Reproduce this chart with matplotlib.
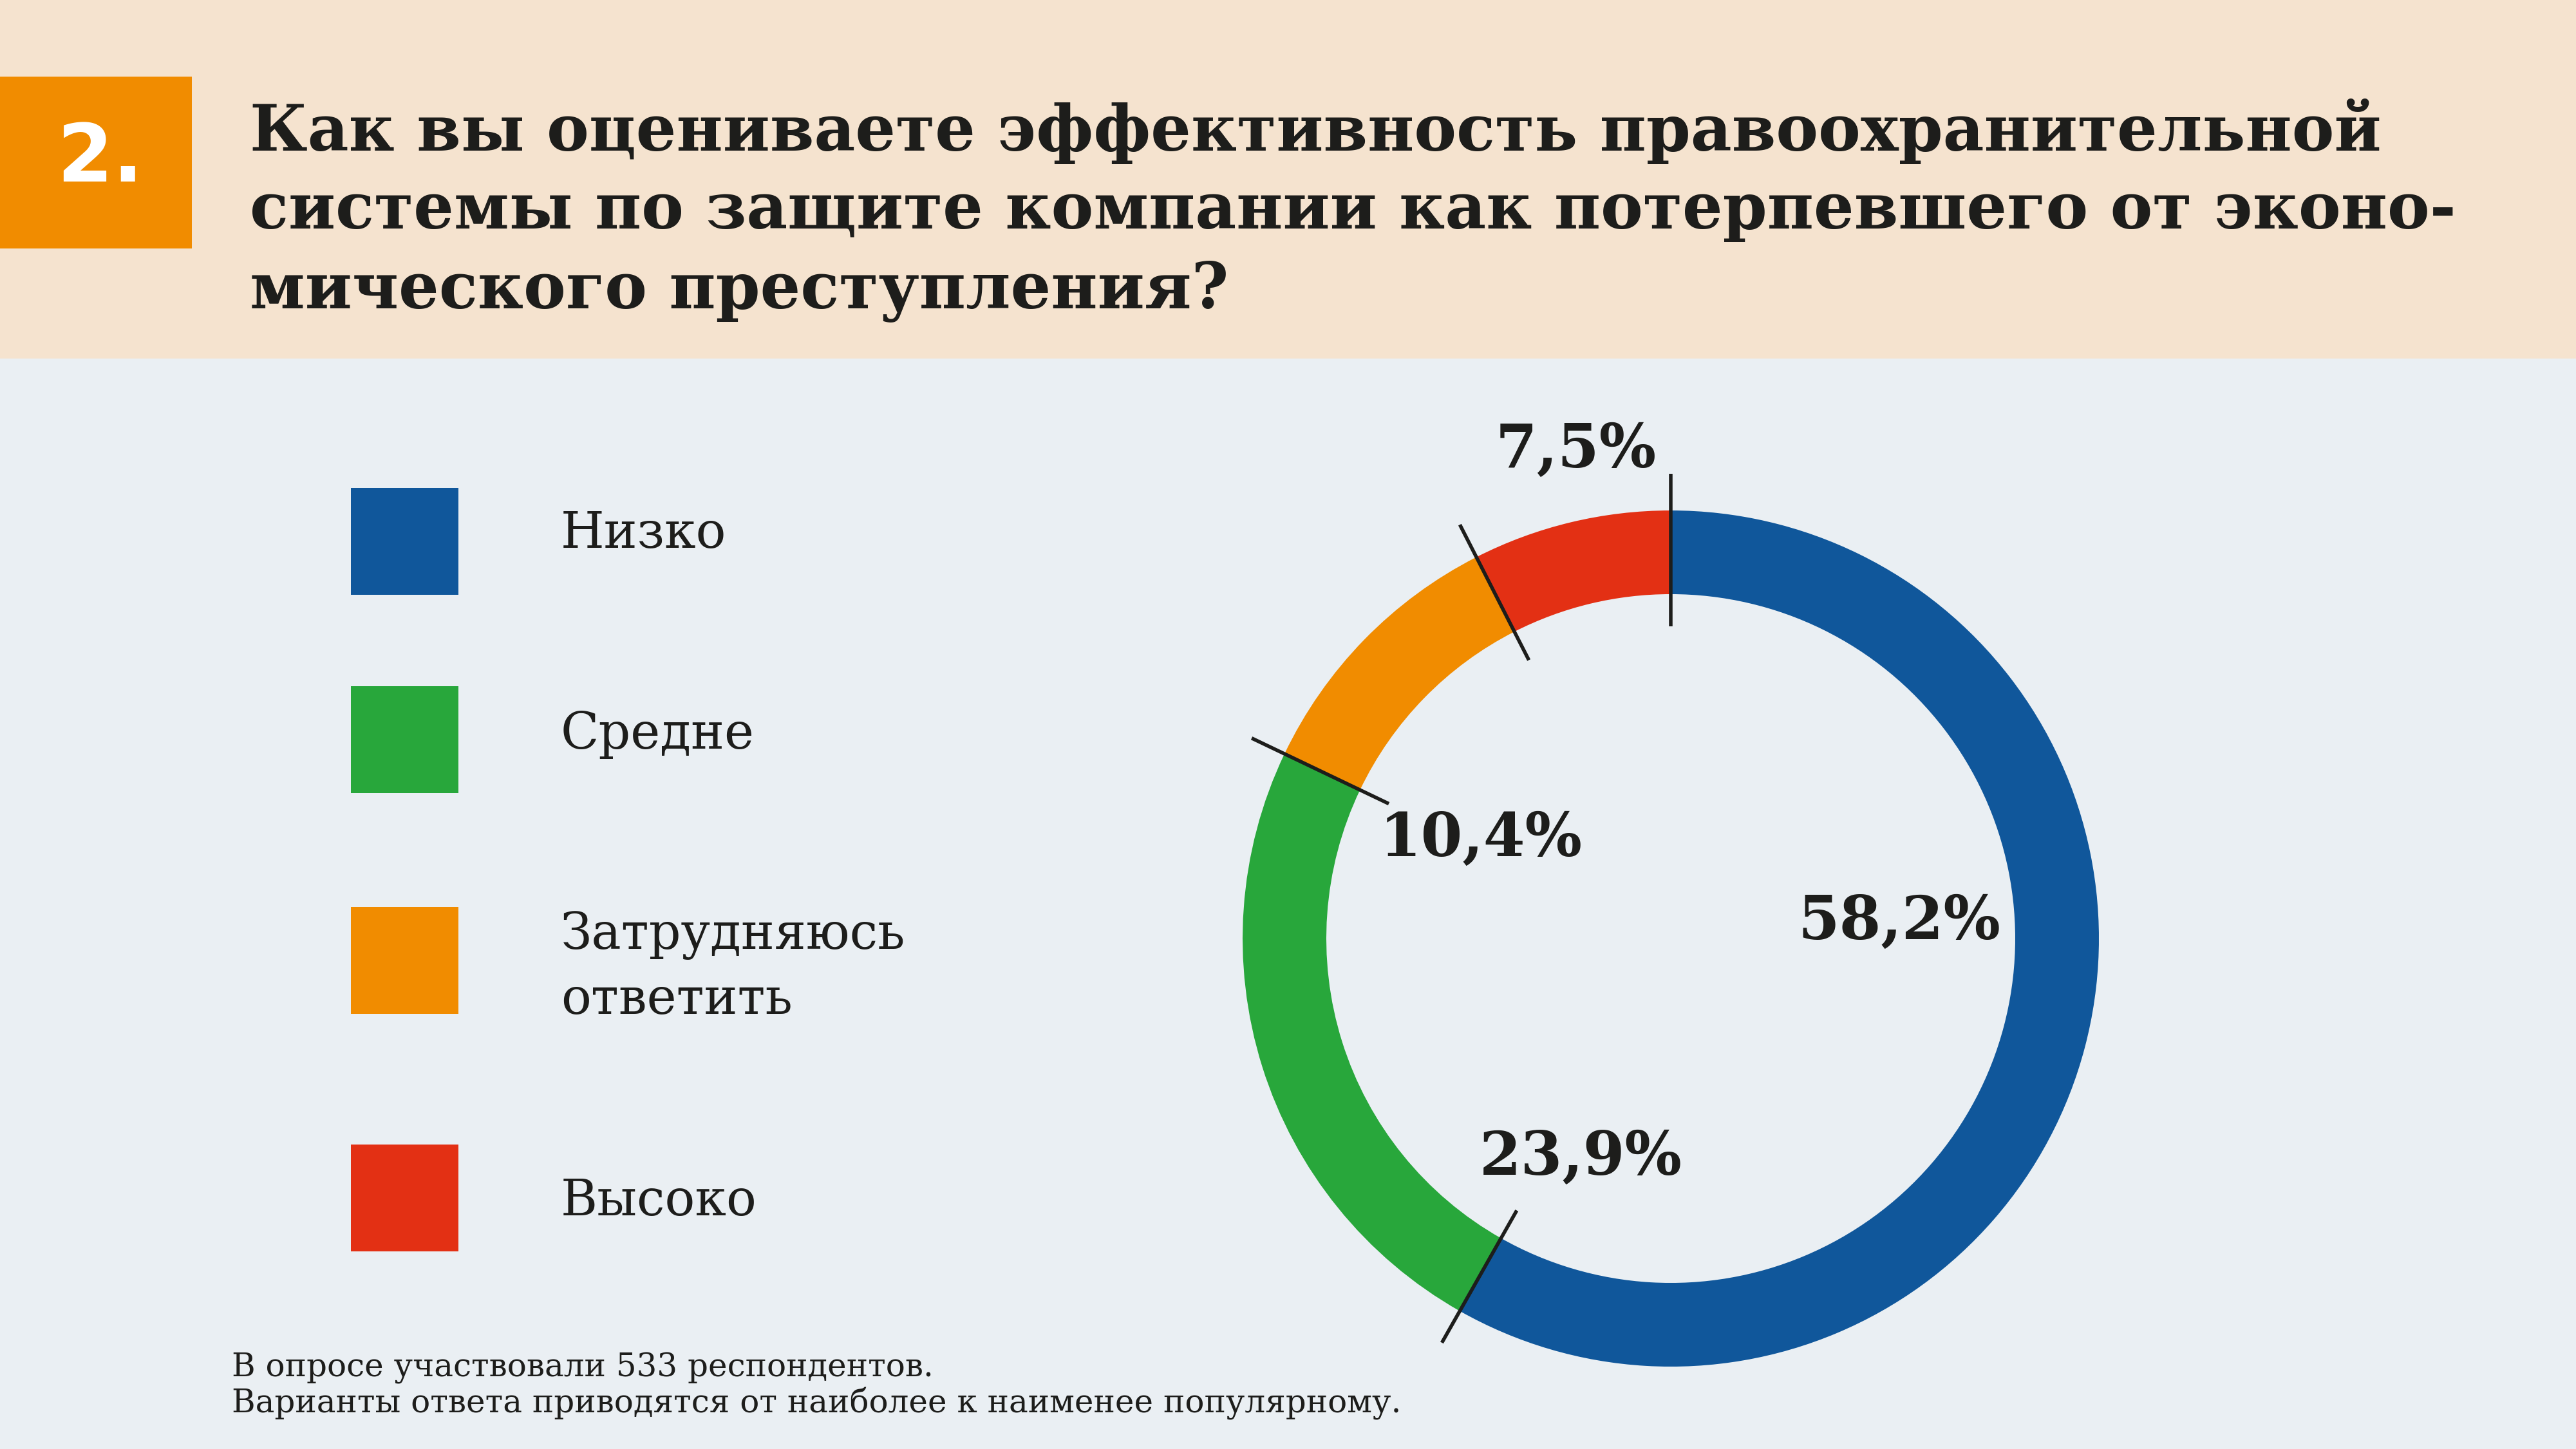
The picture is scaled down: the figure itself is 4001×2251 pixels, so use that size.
import matplotlib
matplotlib.use("Agg")
import matplotlib.pyplot as plt
from matplotlib.patches import Rectangle
import numpy as np

# ---- data ----
categories = ["Низко", "Средне", "Затрудняюсь\nответить", "Высоко"]
values = [58.2, 23.9, 10.4, 7.5]
value_labels = ["58,2%", "23,9%", "10,4%", "7,5%"]
colors = ["#10579B", "#28A73B", "#F18C00", "#E33014"]
title_number = "2."
title_lines = [
    "Как вы оцениваете эффективность правоохранительной",
    "системы по защите компании как потерпевшего от эконо-",
    "мического преступления?",
]
footnote = ["В опросе участвовали 533 респондентов.",
            "Варианты ответа приводятся от наиболее к наименее популярному."]

W, H = 4001, 2251
DPI = 100
fig = plt.figure(figsize=(W / DPI, H / DPI), dpi=DPI)
fig.patch.set_facecolor("#EAEFF3")
TXT = "#1D1D1B"

def fx(px):
    return px / W

def fy(py):  # py measured from top
    return 1 - py / H

# header band
fig.patches.append(Rectangle((0, fy(557)), 1, 557 / H, transform=fig.transFigure,
                             facecolor="#F5E3CF", edgecolor="none", zorder=0))
# orange number box
fig.patches.append(Rectangle((0, fy(386)), fx(298), (386 - 119) / H, transform=fig.transFigure,
                             facecolor="#F18C00", edgecolor="none", zorder=1))
fig.text(fx(155), fy(248), title_number, color="white", fontsize=90, fontweight="bold",
         family="DejaVu Sans", ha="center", va="center", zorder=2)

baselines = [234, 355, 479]
for line, b in zip(title_lines, baselines):
    fig.text(fx(388), fy(b), line, color=TXT, fontsize=71, fontweight="bold",
             family="DejaVu Serif", ha="left", va="baseline")

# legend
sq_tops = [758, 1066, 1409, 1778]
sq_h = 166
sq_left, sq_w = 545, 167
label_y = [829, 1141, 1503, 1866]
for c, lab, top, ly in zip(colors, categories, sq_tops, label_y):
    fig.patches.append(Rectangle((fx(sq_left), fy(top + sq_h)), fx(sq_w), sq_h / H,
                                 transform=fig.transFigure, facecolor=c, edgecolor="none"))
    fig.text(fx(871), fy(ly), lab, color=TXT, fontsize=56, family="DejaVu Serif",
             ha="left", va="center", linespacing=1.4)

# footnote
fig.text(fx(360), fy(2138), footnote[0], color=TXT, fontsize=36, family="DejaVu Serif",
         ha="left", va="baseline")
fig.text(fx(360), fy(2194), footnote[1], color=TXT, fontsize=36, family="DejaVu Serif",
         ha="left", va="baseline")

# donut
cx, cy, R = 2595, 1458, 665
lim = 1.25
size = 2 * lim * R
ax = fig.add_axes([fx(cx - size / 2), (H - cy - size / 2) / H, size / W, size / H])
ax.set_facecolor("none")
ax.pie(values, colors=colors, startangle=90, counterclock=False, radius=1.0,
       wedgeprops=dict(width=1 - 535 / 665, edgecolor="none", linewidth=0))
ax.set_xlim(-lim, lim)
ax.set_ylim(-lim, lim)
ax.set_aspect("equal")
ax.axis("off")

cum = np.cumsum([0] + values[:-1])
for c in cum:
    th = np.deg2rad(90 - 360 * c / 100)
    r0, r1 = 0.73, 1.085
    ax.plot([r0 * np.cos(th), r1 * np.cos(th)], [r0 * np.sin(th), r1 * np.sin(th)],
            color=TXT, lw=4, solid_capstyle="butt", clip_on=False, zorder=5)

label_pos = [(0.534, 0.038), (-0.210, -0.513), (-0.444, 0.232), (-0.221, 1.14)]
for txt, (lx, ly) in zip(value_labels, label_pos):
    ax.text(lx, ly, txt, color=TXT, fontsize=67, fontweight="bold", family="DejaVu Serif",
            ha="center", va="center", clip_on=False)

fig.savefig("out.png", dpi=DPI, facecolor=fig.get_facecolor())
